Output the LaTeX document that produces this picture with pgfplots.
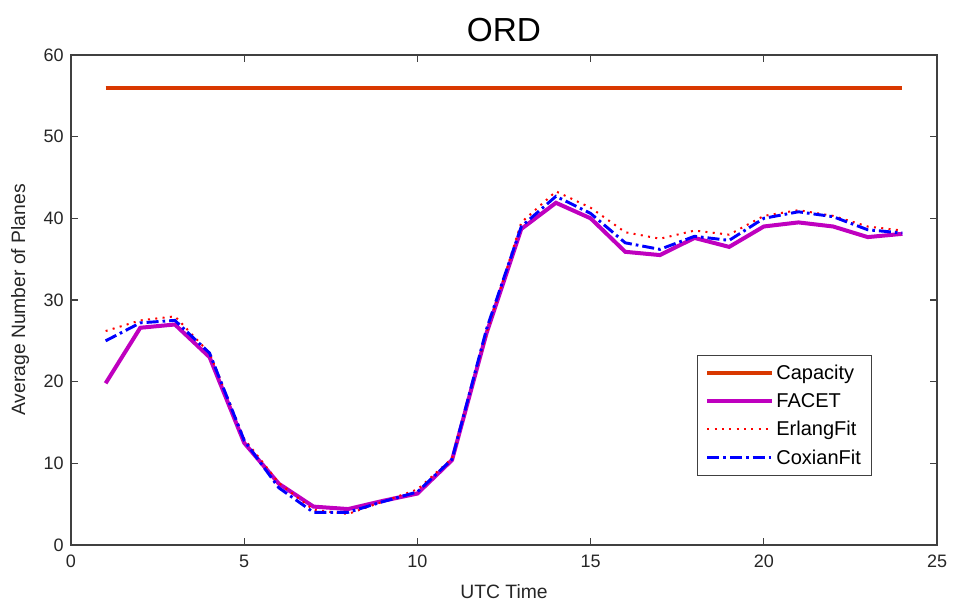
\documentclass[border=0pt]{standalone}
\usepackage{pgfplots}
\pgfplotsset{compat=1.18}
\usepackage{fontspec}
\setmainfont{Liberation Sans}
\definecolor{capc}{RGB}{217,56,0}
\definecolor{facetc}{RGB}{191,0,191}
\begin{document}
\begin{tikzpicture}
\begin{axis}[
  name=ax,
  scale only axis,
  width=649.5pt, height=367.5pt,
  xmin=0, xmax=25, ymin=0, ymax=60,
  xtick={0,5,...,25}, ytick={0,10,...,60},
  tick align=inside,
  major tick length=5pt,
  axis line style={black!75, line width=0.8pt},
  every tick/.style={black!75, line width=0.8pt},
  tick label style={font=\fontsize{13.5}{16}\selectfont, text=black!85},
  xticklabel style={yshift=-4pt},
  yticklabel style={xshift=-2pt},
  /pgf/number format/assume math mode=true,
  title={ORD},
  title style={font=\fontsize{25}{30}\selectfont, yshift=0pt},
  xlabel={UTC Time},
  ylabel={Average Number of Planes},
  label style={font=\fontsize{14.5}{17}\selectfont, text=black!85},
  xlabel style={yshift=-6pt},
  ylabel style={yshift=4pt},
  legend style={at={(0.925,0.388)}, anchor=north east, draw=black!75, line width=0.8pt,
    font=\fontsize{15}{18}\selectfont, row sep=5pt, inner xsep=6pt, inner ysep=5pt},
  legend cell align=left,
  legend image code/.code={\draw[#1] (0cm,0cm) -- (1.7cm,0cm);},
]
\addplot[capc, line width=3pt] coordinates {(1,56) (24,56)};
\addlegendentry{Capacity}
\addplot[facetc, line width=3pt] coordinates {
(1,19.8) (2,26.6) (3,27.0) (4,23.0) (5,12.5) (6,7.5) (7,4.7) (8,4.4) (9,5.4) (10,6.3)
(11,10.4) (12,26.0) (13,38.7) (14,41.9) (15,40.0) (16,35.9) (17,35.5) (18,37.6) (19,36.5)
(20,39.0) (21,39.5) (22,39.0) (23,37.7) (24,38.1)};
\addlegendentry{FACET}
\addplot[red, line width=1.5pt, dash pattern=on 1.5pt off 4pt] coordinates {
(1,26.2) (2,27.5) (3,28.0) (4,23.5) (5,13.0) (6,7.6) (7,4.3) (8,3.8) (9,5.3) (10,6.8)
(11,10.6) (12,26.0) (13,39.5) (14,43.3) (15,41.3) (16,38.3) (17,37.5) (18,38.5) (19,38.0)
(20,40.3) (21,41.0) (22,40.3) (23,39.0) (24,38.5)};
\addlegendentry{ErlangFit}
\addplot[blue, line width=2.2pt, dash pattern=on 9pt off 3pt on 2pt off 3pt] coordinates {
(1,25.0) (2,27.2) (3,27.5) (4,23.5) (5,12.8) (6,7.0) (7,4.0) (8,4.0) (9,5.3) (10,6.5)
(11,10.5) (12,26.5) (13,39.0) (14,42.7) (15,40.6) (16,37.0) (17,36.2) (18,37.8) (19,37.3)
(20,40.0) (21,40.8) (22,40.2) (23,38.6) (24,38.2)};
\addlegendentry{CoxianFit}
\end{axis}
\pgfresetboundingbox
\path ([shift={(-53.25pt,-46.5pt)}]ax.south west) rectangle ([shift={(16.5pt,41.25pt)}]ax.north east);
\end{tikzpicture}
\end{document}
